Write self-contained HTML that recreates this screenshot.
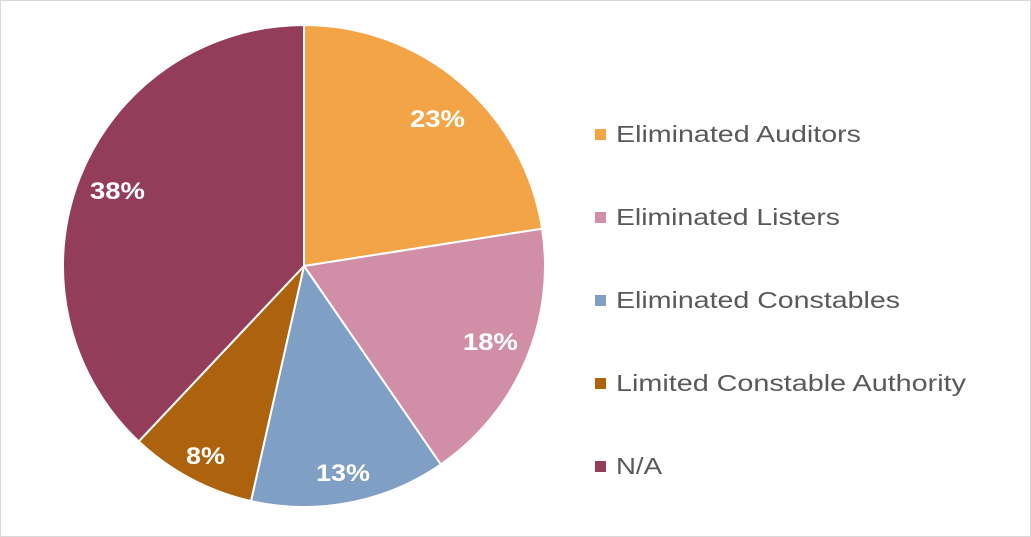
<!DOCTYPE html>
<html><head><style>
html,body{margin:0;padding:0;background:#fff;}
svg{display:block;}
</style></head><body>
<svg width="1031" height="537" viewBox="0 0 1031 537" xmlns="http://www.w3.org/2000/svg">
<rect x="0.5" y="0.5" width="1030" height="536" fill="#fff" stroke="#d9d9d9"/>
<g stroke="#fff" stroke-width="2" stroke-linejoin="round">
<path d="M304,266 L304,25 A241,241 0 0 1 542.1,228.7 Z" fill="#F2A446"/>
<path d="M304,266 L542.1,228.7 A241,241 0 0 1 440.8,464.4 Z" fill="#D08FA6"/>
<path d="M304,266 L440.8,464.4 A241,241 0 0 1 251.0,501.1 Z" fill="#7F9FC4"/>
<path d="M304,266 L251.0,501.1 A241,241 0 0 1 138.7,441.4 Z" fill="#AD630E"/>
<path d="M304,266 L138.7,441.4 A241,241 0 0 1 304,25 Z" fill="#943D5A"/>
</g>
<g font-family="Liberation Sans, sans-serif" font-weight="bold" font-size="24" fill="#fff" lengthAdjust="spacingAndGlyphs">
<text x="410" y="127" textLength="55" lengthAdjust="spacingAndGlyphs">23%</text>
<text x="463" y="350" textLength="55" lengthAdjust="spacingAndGlyphs">18%</text>
<text x="316" y="481" textLength="54" lengthAdjust="spacingAndGlyphs">13%</text>
<text x="186" y="464" textLength="39" lengthAdjust="spacingAndGlyphs">8%</text>
<text x="90" y="199" textLength="55" lengthAdjust="spacingAndGlyphs">38%</text>
</g>
<g font-family="Liberation Sans, sans-serif" font-size="23" fill="#595959">
<rect x="595" y="129" width="11" height="11" fill="#F2A446"/><text x="616" y="142" textLength="245" lengthAdjust="spacingAndGlyphs">Eliminated Auditors</text>
<rect x="595" y="212" width="11" height="11" fill="#D08FA6"/><text x="616" y="225" textLength="224" lengthAdjust="spacingAndGlyphs">Eliminated Listers</text>
<rect x="595" y="295" width="11" height="11" fill="#7F9FC4"/><text x="616" y="308" textLength="284" lengthAdjust="spacingAndGlyphs">Eliminated Constables</text>
<rect x="595" y="378" width="11" height="11" fill="#AD630E"/><text x="616" y="391" textLength="350" lengthAdjust="spacingAndGlyphs">Limited Constable Authority</text>
<rect x="595" y="461" width="11" height="11" fill="#943D5A"/><text x="616" y="474" textLength="46" lengthAdjust="spacingAndGlyphs">N/A</text>
</g>
</svg>
</body></html>
